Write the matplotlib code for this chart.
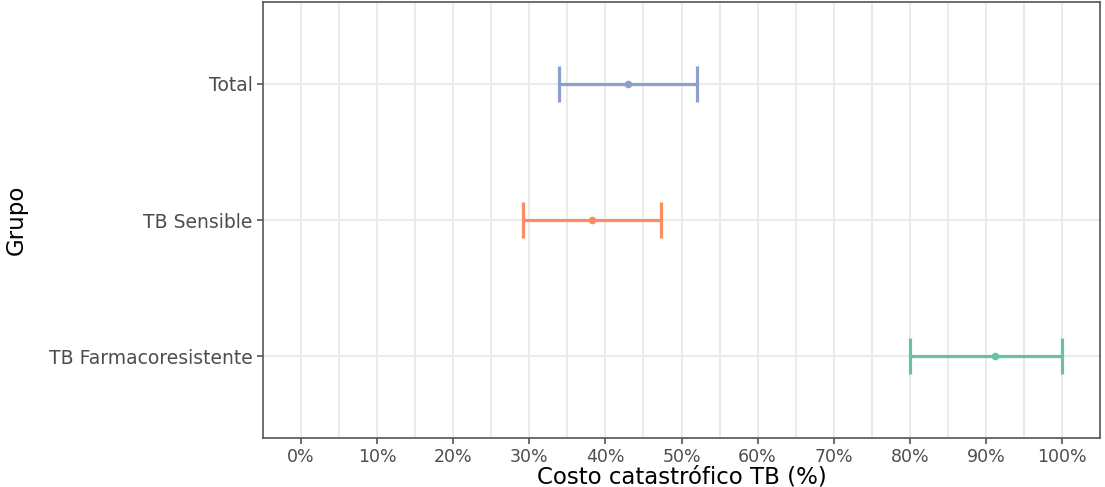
import matplotlib.pyplot as plt
import numpy as np

grupos = ["TB Farmacoresistente", "TB Sensible", "Total"]
estimado = [91.2, 38.3, 43.0]
ic_inf = [80.0, 29.2, 33.9]
ic_sup = [100.0, 47.3, 52.1]
colores = ["#66C2A5", "#FC8D62", "#8DA0CB"]

plt.rcParams['font.family'] = ['DejaVu Sans']

fig = plt.figure(figsize=(11.05, 4.87), dpi=100)
ax = fig.add_axes([0.238, 0.1006, 0.7575, 0.8953])

y = np.arange(1, len(grupos) + 1)
for i in range(len(grupos)):
  err = [[estimado[i] - ic_inf[i]], [ic_sup[i] - estimado[i]]]
  ax.errorbar(estimado[i], y[i], xerr=err, fmt='o', color=colores[i], ecolor=colores[i],
              elinewidth=2.3, capsize=13, capthick=2.3, markersize=4.5, zorder=3)

ax.set_xlim(-5, 105)
ax.set_ylim(0.4, 3.6)
ax.set_xticks(np.arange(0, 101, 10))
ax.set_xticks(np.arange(5, 100, 10), minor=True)
ax.set_xticklabels([f"{v}%" for v in range(0, 101, 10)])
ax.set_yticks(y)
ax.set_yticklabels(grupos)

ax.grid(True, which='major', color='#EBEBEB', linewidth=1.4, zorder=0)
ax.grid(True, which='minor', axis='x', color='#EBEBEB', linewidth=1.4, zorder=0)
ax.set_axisbelow(True)
for s in ax.spines.values():
  s.set_color('#555555')
  s.set_linewidth(1.2)

ax.tick_params(axis='both', which='major', colors='#555555', labelcolor='#4D4D4D',
               length=4, width=1.2)
ax.tick_params(axis='x', which='major', labelsize=12.5, pad=3)
ax.tick_params(axis='y', which='major', labelsize=13.5)
ax.tick_params(axis='x', which='minor', length=0)

ax.set_xlabel('Costo catastrófico TB (%)', fontsize=16.5, color='black', labelpad=0)
ax.set_ylabel('Grupo', fontsize=16.5, color='black', family=['Liberation Sans Narrow', 'DejaVu Sans'])
ax.yaxis.set_label_coords(-0.281, 0.5)

plt.savefig('out.png', dpi=100)
